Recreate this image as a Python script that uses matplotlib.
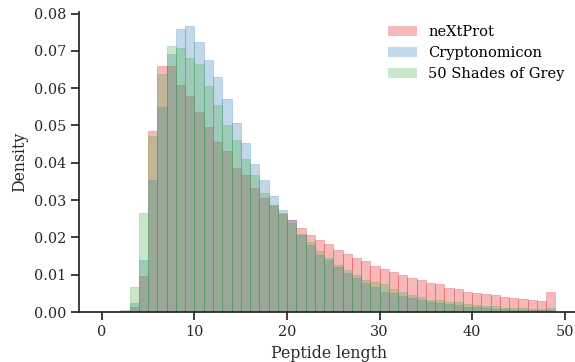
import numpy as np
import matplotlib
matplotlib.use("Agg")
import matplotlib.pyplot as plt
from matplotlib.patches import Patch

# bin edges 0..49, width 1
bin_edges = list(range(0, 50))
labels = ["neXtProt", "Cryptonomicon", "50 Shades of Grey"]
colors = ["#e41a1c", "#377eb8", "#4daf4a"]

# densities per bin (bins 0..48)
nextprot = [0, 0, 0.0, 0.0014, 0.0097, 0.0485, 0.0660, 0.0660, 0.0609, 0.0579,
            0.0536, 0.0496, 0.0456, 0.0432, 0.0387, 0.0367, 0.0332, 0.0306, 0.0287, 0.0263,
            0.0247, 0.0225, 0.0206, 0.0193, 0.0182, 0.0166, 0.0155, 0.0145, 0.0137, 0.0123,
            0.0115, 0.0107, 0.0099, 0.0091, 0.0086, 0.0078, 0.0075, 0.0064, 0.0062, 0.0054,
            0.0051, 0.0048, 0.0046, 0.0040, 0.0038, 0.0035, 0.0032, 0.0029, 0.0054]
cryptonomicon = [0, 0, 0.0002, 0.0025, 0.0139, 0.0354, 0.0550, 0.0691, 0.0759, 0.0767,
                 0.0724, 0.0676, 0.0630, 0.0571, 0.0507, 0.0453, 0.0397, 0.0354, 0.0311, 0.0273,
                 0.0246, 0.0206, 0.0180, 0.0153, 0.0139, 0.0121, 0.0105, 0.0091, 0.0078, 0.0067,
                 0.0054, 0.0051, 0.0043, 0.0038, 0.0032, 0.0027, 0.0024, 0.0021, 0.0019, 0.0013,
                 0.0013, 0.0011, 0.0008, 0.0008, 0.0005, 0.0005, 0.0005, 0.0005, 0.0005]
shades = [0, 0, 0.0005, 0.0067, 0.0265, 0.0472, 0.0638, 0.0714, 0.0708, 0.0681,
          0.0665, 0.0606, 0.0555, 0.0501, 0.0461, 0.0410, 0.0367, 0.0319, 0.0284, 0.0266,
          0.0239, 0.0209, 0.0188, 0.0164, 0.0145, 0.0126, 0.0113, 0.0099, 0.0086, 0.0080,
          0.0075, 0.0062, 0.0054, 0.0046, 0.0040, 0.0032, 0.0032, 0.0027, 0.0027, 0.0021,
          0.0019, 0.0016, 0.0016, 0.0011, 0.0011, 0.0011, 0.0008, 0.0008, 0.0011]
series = [nextprot, cryptonomicon, shades]

plt.rcParams['font.family'] = ['DejaVu Serif']
plt.rcParams['font.size'] = 10.4

fig = plt.figure(figsize=(5.75, 3.62), dpi=100)
W, H = 575.0, 362.0
x0, x1 = 79.3, 578.0
y0, y1 = 312.0, 11.7
ax = fig.add_axes([x0 / W, (H - y0) / H, (x1 - x0) / W, (y0 - y1) / H])

for vals, c in zip(series, colors):
    ax.hist(bin_edges[:-1], bins=bin_edges, weights=vals, color=c, alpha=0.3,
            edgecolor=c, linewidth=0.6)

ax.set_xlim(-2.45, 51.45)
ax.set_ylim(0, 0.0805)
ax.set_xticks([0, 10, 20, 30, 40, 50])
ax.set_yticks(np.arange(0, 0.081, 0.01))
ax.yaxis.set_major_formatter(matplotlib.ticker.FormatStrFormatter('%.2f'))

dark = '#262626'
for s in ['top', 'right']:
    ax.spines[s].set_visible(False)
for s in ['left', 'bottom']:
    ax.spines[s].set_color(dark)
    ax.spines[s].set_linewidth(1.25)
ax.tick_params(colors=dark, labelcolor=dark, direction='out', length=6, width=1.25,
               labelsize=10.4)

ax.set_xlabel('Peptide length', color=dark, fontsize=11.3)
ax.set_ylabel('Density', color=dark, fontsize=11.3)

handles = [Patch(facecolor=c, alpha=0.3, edgecolor='none') for c in colors]
ax.legend(handles, labels, loc='upper right', frameon=False, fontsize=10.5,
          handlelength=2.0)

fig.savefig('out.png', dpi=100)
